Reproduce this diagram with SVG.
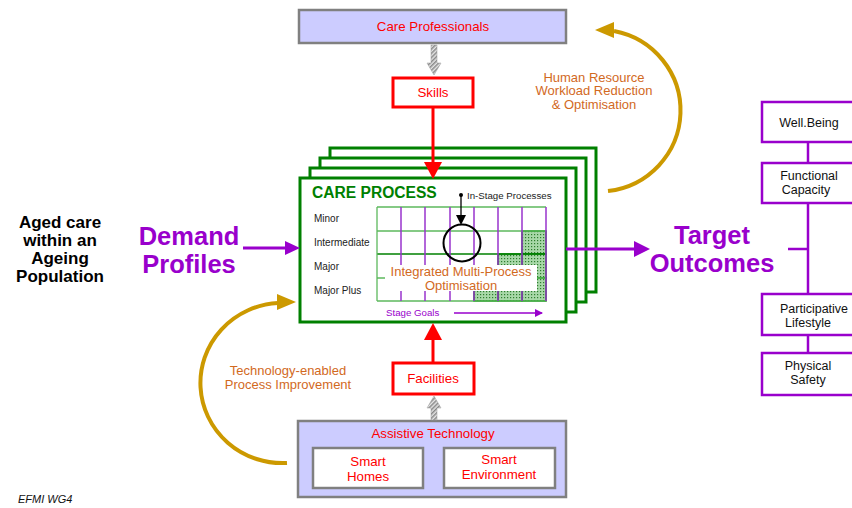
<svg xmlns="http://www.w3.org/2000/svg" width="852" height="508" viewBox="0 0 852 508">
<style>
text{font-family:"Liberation Sans",Arial,sans-serif}
.blue{fill:#ccccff;stroke:#808080;stroke-width:2.5}
.white{fill:#fff;stroke:#808080;stroke-width:2.5}
.red{fill:#fff;stroke:#ff0000;stroke-width:3}
.rt{fill:#ff0000;font-size:13.3px;text-anchor:middle}
.cp{fill:#fff;stroke:#008000;stroke-width:3}
.lab{fill:#222;font-size:10px}
.gl{stroke:#5cb85c;stroke-width:1.3}
.pl{stroke:#9933cc;stroke-width:1.5}
.ot{fill:#9900cc;stroke:#9900cc;stroke-width:2.5}
.ob{fill:#fff;stroke:#9900cc;stroke-width:2.5}
.otx{fill:#111;font-size:12.5px;text-anchor:middle}
.or{fill:#d2691e;font-size:13px;text-anchor:middle}
.big{fill:#9900cc;font-size:25.5px;font-weight:bold;text-anchor:middle}
.gold{fill:none;stroke:#cc9900;stroke-width:4}
</style>
<defs>
<pattern id="dots" width="3" height="3" patternUnits="userSpaceOnUse">
<rect width="3" height="3" fill="#a8d8a8"/>
<rect x="0" y="0" width="1.2" height="1.2" fill="#2e7d2e"/>
</pattern>
<pattern id="hatch" width="3" height="3" patternUnits="userSpaceOnUse" patternTransform="rotate(45)">
<rect width="3" height="3" fill="#e6e6e6"/>
<rect width="1.5" height="3" fill="#888"/>
</pattern>
<marker id="pa" markerWidth="8" markerHeight="8" refX="7" refY="4" orient="auto" markerUnits="userSpaceOnUse">
<path d="M0,0 L8,4 L0,8 Z" fill="#9900cc"/>
</marker>
</defs>

<g id="care-professionals">
<rect class="blue" x="299" y="10" width="267" height="33"/>
<text class="rt" x="433" y="31">Care Professionals</text>
</g>

<g id="skills">
<rect class="red" x="393" y="78" width="80" height="29"/>
<text class="rt" x="433" y="97">Skills</text>
</g>

<g id="care-process">
<rect class="cp" x="330" y="148" width="266" height="144"/>
<rect class="cp" x="320" y="158" width="266" height="144"/>
<rect class="cp" x="310" y="168" width="266" height="144"/>
<rect class="cp" x="300" y="178" width="266" height="144"/>
<text x="312" y="198" fill="#008000" font-size="15.6" font-weight="bold">CARE PROCESS</text>
<circle cx="461" cy="195" r="2" fill="#000"/>
<text x="467" y="199" fill="#222" font-size="9.7">In-Stage Processes</text>
<text class="lab" x="314" y="222">Minor</text>
<text class="lab" x="314" y="246">Intermediate</text>
<text class="lab" x="314" y="270">Major</text>
<text class="lab" x="314" y="294">Major Plus</text>
<rect x="522" y="231" width="24" height="23" fill="url(#dots)" stroke="#008000" stroke-width="1.5"/>
<rect x="522" y="254" width="24" height="24" fill="url(#dots)" stroke="#008000" stroke-width="1.5"/>
<rect x="522" y="278" width="24" height="23" fill="url(#dots)" stroke="#008000" stroke-width="1.5"/>
<rect x="498" y="254" width="24" height="24" fill="url(#dots)" stroke="#008000" stroke-width="1.5"/>
<rect x="498" y="278" width="24" height="23" fill="url(#dots)" stroke="#008000" stroke-width="1.5"/>
<rect x="474" y="278" width="24" height="23" fill="url(#dots)" stroke="#008000" stroke-width="1.5"/>
<line class="gl" x1="377" y1="207" x2="546" y2="207"/>
<line class="gl" x1="377" y1="231" x2="546" y2="231"/>
<line x1="377" y1="254" x2="546" y2="254" stroke="#008000" stroke-width="1.3"/>
<line class="gl" x1="377" y1="278" x2="546" y2="278"/>
<line class="gl" x1="377" y1="301" x2="546" y2="301"/>
<line class="gl" x1="377" y1="207" x2="377" y2="301"/>
<line class="pl" x1="401" y1="207" x2="401" y2="301"/>
<line class="pl" x1="425" y1="207" x2="425" y2="301"/>
<line class="pl" x1="450" y1="207" x2="450" y2="301"/>
<line class="pl" x1="474" y1="207" x2="474" y2="301"/>
<line class="pl" x1="498" y1="207" x2="498" y2="301"/>
<line class="pl" x1="522" y1="207" x2="522" y2="301"/>
<line class="pl" x1="546" y1="207" x2="546" y2="301"/>
<circle cx="462" cy="243" r="18.5" fill="none" stroke="#000" stroke-width="2"/>
<line x1="461" y1="195" x2="461" y2="216" stroke="#000" stroke-width="1.3"/>
<polygon points="456,215 466,215 461,225" fill="#000"/>
<rect x="385" y="265" width="152" height="26" fill="#fff"/>
<text class="or" x="461" y="275.5" font-size="13">Integrated Multi-Process</text>
<text class="or" x="461" y="289.5" font-size="13">Optimisation</text>
<text x="386" y="316" fill="#9900cc" font-size="9.7">Stage Goals</text>
<line x1="454" y1="313" x2="542" y2="313" stroke="#9900cc" stroke-width="1.3" marker-end="url(#pa)"/>
</g>

<g id="facilities">
<rect class="red" x="393" y="363" width="81" height="31"/>
<text class="rt" x="433" y="383">Facilities</text>
</g>

<g id="assistive-technology">
<rect class="blue" x="298" y="421" width="268" height="76"/>
<text class="rt" x="433" y="438">Assistive Technology</text>
<rect class="white" x="313" y="448" width="110" height="40"/>
<text class="rt" x="368" y="466" font-size="14">Smart</text>
<text class="rt" x="368" y="481" font-size="14">Homes</text>
<rect class="white" x="444" y="448" width="111" height="40"/>
<text class="rt" x="499" y="464" font-size="14">Smart</text>
<text class="rt" x="499" y="479" font-size="14">Environment</text>
</g>

<g id="aged-care">
<text x="60" y="228" font-size="17" font-weight="bold" text-anchor="middle" fill="#000">Aged care</text>
<text x="60" y="246" font-size="17" font-weight="bold" text-anchor="middle" fill="#000">within an</text>
<text x="60" y="264" font-size="17" font-weight="bold" text-anchor="middle" fill="#000">Ageing</text>
<text x="60" y="282" font-size="17" font-weight="bold" text-anchor="middle" fill="#000">Population</text>
</g>

<g id="demand-profiles">
<text class="big" x="189" y="245">Demand</text>
<text class="big" x="189" y="273">Profiles</text>
</g>

<g id="target-outcomes">
<text class="big" x="712" y="244">Target</text>
<text class="big" x="712" y="272">Outcomes</text>
</g>

<g id="well-being">
<rect class="ob" x="762" y="102" width="95" height="40"/>
<text class="otx" x="809" y="127">Well.Being</text>
</g>
<g id="functional-capacity">
<rect class="ob" x="762" y="163" width="95" height="40"/>
<text class="otx" x="809" y="180">Functional</text>
<text class="otx" x="806" y="194">Capacity</text>
</g>
<g id="participative-lifestyle">
<rect class="ob" x="762" y="294" width="95" height="41"/>
<text class="otx" x="814" y="313">Participative</text>
<text class="otx" x="808" y="327">Lifestyle</text>
</g>
<g id="physical-safety">
<rect class="ob" x="762" y="353" width="95" height="42"/>
<text class="otx" x="808" y="370">Physical</text>
<text class="otx" x="808" y="384">Safety</text>
</g>

<g id="hr-label">
<text class="or" x="594" y="81.5" font-size="12.7">Human Resource</text>
<text class="or" x="594" y="95" font-size="12.7">Workload Reduction</text>
<text class="or" x="594" y="108.5" font-size="12.7">&amp; Optimisation</text>
</g>
<g id="tech-label">
<text class="or" x="288" y="375">Technology-enabled</text>
<text class="or" x="288" y="389">Process Improvement</text>
</g>

<g id="connectors">
<polygon points="431,45 437,45 437,63 441,63 434,75 427,63 431,63" fill="url(#hatch)" stroke="#999" stroke-width="0.5"/>
<polygon points="431,420 437,420 437,408 441,408 434,396 427,408 431,408" fill="url(#hatch)" stroke="#999" stroke-width="0.5"/>
<line x1="433" y1="107" x2="433" y2="164" stroke="#ff0000" stroke-width="3"/>
<polygon points="424,162 442,162 433,179" fill="#ff0000"/>
<line x1="433" y1="363" x2="433" y2="338" stroke="#ff0000" stroke-width="3"/>
<polygon points="424,340 442,340 433,323" fill="#ff0000"/>
<line x1="243" y1="248" x2="287" y2="248" stroke="#9900cc" stroke-width="3"/>
<polygon points="285,241 300,248 285,255" fill="#9900cc"/>
<line x1="566" y1="249" x2="636" y2="249" stroke="#9900cc" stroke-width="3"/>
<polygon points="634,241 650,249 634,257" fill="#9900cc"/>
<path class="gold" d="M608,191 A82,81 0 0 0 614,31"/>
<polygon points="595,30 614,22 614,38" fill="#cc9900"/>
<path class="gold" d="M287,463 A82,80 0 0 1 278,303"/>
<polygon points="296,302 277,294 277,310" fill="#cc9900"/>
<line x1="808" y1="142" x2="808" y2="163" class="ot"/>
<line x1="808" y1="203" x2="808" y2="294" class="ot"/>
<line x1="808" y1="335" x2="808" y2="353" class="ot"/>
<line x1="788" y1="249" x2="808" y2="249" class="ot"/>
</g>

<text x="18" y="503" font-size="11" font-style="italic" fill="#111">EFMI WG4</text>
</svg>
